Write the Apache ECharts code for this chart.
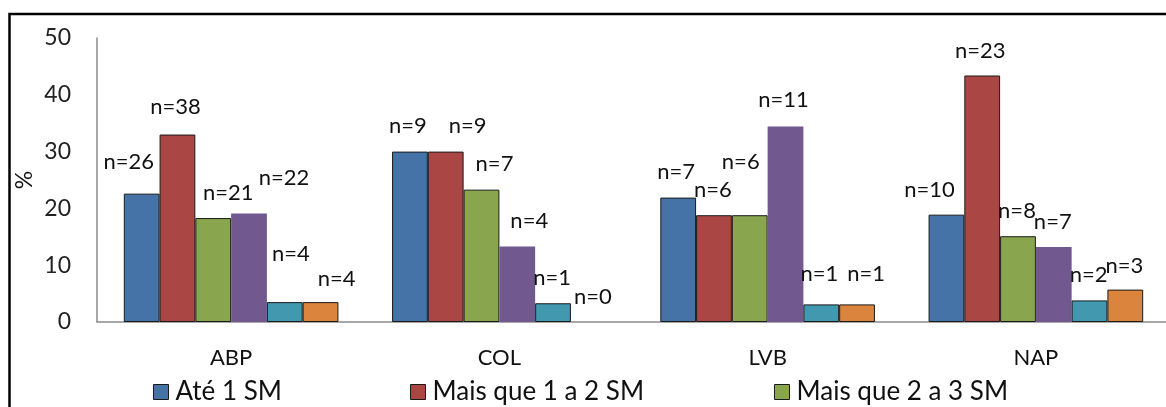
<!DOCTYPE html>
<html>
<head>
<meta charset="utf-8">
<script src="https://cdn.jsdelivr.net/npm/echarts@6/dist/echarts.min.js"></script>
<style>
html,body{margin:0;padding:0;background:#fff;}
#chart{width:1166px;height:407px;}
</style>
</head>
<body>
<div id="chart"></div>
<script>
// ---- data ----
const categories = ['ABP', 'COL', 'LVB', 'NAP'];
const seriesNames = ['Até 1 SM', 'Mais que 1 a 2 SM', 'Mais que 2 a 3 SM', 'Mais que 3 a 5 SM', 'Mais que 5 SM', 'Sem rendimento'];
const ate1SM     = [22.6, 30.0, 21.9, 18.9];
const mais1a2SM  = [33.0, 30.0, 18.8, 43.4];
const mais2a3SM  = [18.3, 23.3, 18.8, 15.1];
const mais3a5SM  = [19.1, 13.3, 34.4, 13.2];
const mais5SM    = [3.5, 3.3, 3.1, 3.8];
const semRenda   = [3.5, 0.0, 3.1, 5.7];
const nAte1SM    = [26, 9, 7, 10];
const nMais1a2SM = [38, 9, 6, 23];
const nMais2a3SM = [21, 7, 6, 8];
const nMais3a5SM = [22, 4, 11, 7];
const nMais5SM   = [4, 1, 1, 2];
const nSemRenda  = [4, 0, 1, 3];
const yTickValues = [0, 10, 20, 30, 40, 50];
const legendShown = ['Até 1 SM', 'Mais que 1 a 2 SM', 'Mais que 2 a 3 SM'];

// ---- layout / style ----
const values = [ate1SM, mais1a2SM, mais2a3SM, mais3a5SM, mais5SM, semRenda];
const counts = [nAte1SM, nMais1a2SM, nMais2a3SM, nMais3a5SM, nMais5SM, nSemRenda];
const colors = ['#4572A7', '#AA4643', '#89A54E', '#71588F', '#4198AF', '#DB843D'];
const borderWidths = [1, 1, 1, 0, 1, 1];
// manual label nudges [dx, dy] per series, per category
const labelNudges = [
  [[-13, -22], [-2, -16], [-2, -16], [-17, -15]],
  [[-2, -18], [22, -16], [-1, -15], [-2, -15]],
  [[15, -15], [13, -16], [-9, -43], [-1, -15]],
  [[35, -26], [12, -16], [-2, -17], [-1, -15]],
  [[6, -38], [-1, -15], [-2, -20], [-1, -16]],
  [[16, -13], [4, -15], [9, -20], [-1, -14]]
];
const FONT = 'Lato';

const series = values.map((vals, s) => ({
  name: seriesNames[s],
  type: 'bar',
  barGap: '0%',
  barCategoryGap: '20%',
  itemStyle: { color: colors[s], borderColor: '#1a1a1a', borderWidth: borderWidths[s] },
  label: {
    show: true,
    position: 'top',
    distance: 0,
    fontFamily: FONT,
    fontSize: 22,
    lineHeight: 20,
    color: '#111',
    formatter: p => 'n=' + counts[s][p.dataIndex]
  },
  data: vals.map((v, i) => ({
    value: v,
    itemStyle: v === 0 ? { borderWidth: 0 } : undefined,
    label: { offset: labelNudges[s][i] }
  }))
}));

const legendLefts = [148, 405, 769];
const legends = legendShown.map((name, i) => ({
  data: [name],
  left: legendLefts[i],
  top: 373,
  itemWidth: 15,
  itemHeight: 15,
  icon: 'rect',
  itemStyle: { borderColor: '#1a1a1a', borderWidth: 1 },
  textStyle: { fontFamily: FONT, fontSize: 26, lineHeight: 28, color: '#111', padding: [0, 0, 0, 2] },
  selectedMode: false
}));

const chart = echarts.init(document.getElementById('chart'), null, { renderer: 'canvas' });
chart.setOption({
  animation: false,
  backgroundColor: '#fff',
  grid: { left: 97, top: 38, bottom: 85, width: 1073, containLabel: false, outerBoundsMode: 'none' },
  legend: legends,
  xAxis: {
    type: 'category',
    data: categories,
    axisLine: { lineStyle: { color: '#8c8c8c', width: 1.5 } },
    axisTick: { show: false },
    axisLabel: { fontFamily: FONT, fontSize: 22, color: '#111', margin: 25 }
  },
  yAxis: {
    type: 'value',
    min: yTickValues[0],
    max: yTickValues[yTickValues.length - 1],
    interval: yTickValues[1] - yTickValues[0],
    name: '%',
    nameLocation: 'middle',
    nameRotate: 90,
    nameGap: 61,
    nameMoveOverlap: false,
    nameTextStyle: { fontFamily: FONT, fontSize: 23, color: '#111' },
    axisLine: { show: true, lineStyle: { color: '#8c8c8c', width: 1.5 } },
    axisTick: { show: false },
    splitLine: { show: false },
    axisLabel: { fontFamily: FONT, fontSize: 23, color: '#222', margin: 26 }
  },
  graphic: [{
    type: 'rect',
    shape: { x: 9.5, y: 14, width: 1400, height: 600 },
    style: { fill: 'none', stroke: '#000', lineWidth: 2.5 },
    silent: true,
    z: 100
  }],
  series: series
});
</script>
</body>
</html>
